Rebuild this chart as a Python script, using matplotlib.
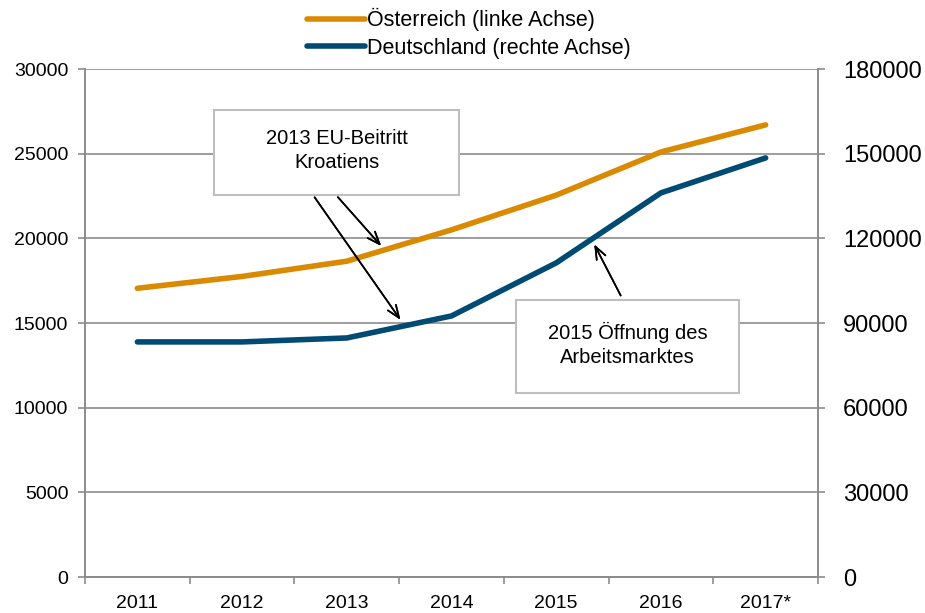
import matplotlib.pyplot as plt
import numpy as np

plt.rcParams['font.family'] = ['Liberation Sans', 'DejaVu Sans']

jahre = ['2011', '2012', '2013', '2014', '2015', '2016', '2017*']
oesterreich = [17050, 17750, 18650, 20500, 22550, 25100, 26700]
deutschland = [83300, 83300, 84700, 92500, 111300, 136100, 148500]

ORANGE = '#DA8A00'
BLAU = '#004A73'
GRAU = '#8C8C8C'

fig = plt.figure(figsize=(9.25, 6.13), dpi=100)
ax = fig.add_axes([85/925, 1 - 577/613, 733/925, 508/613])
ax2 = ax.twinx()

x = np.arange(len(jahre))
l1, = ax.plot(x, oesterreich, color=ORANGE, lw=4, solid_capstyle='round', zorder=3)
l2, = ax2.plot(x, deutschland, color=BLAU, lw=4, solid_capstyle='round', zorder=3)

ax.set_xlim(-0.5, len(jahre) - 0.5)
ax.set_ylim(0, 30000)
ax2.set_ylim(0, 180000)
ax.set_yticks(np.arange(0, 30001, 5000))
ax2.set_yticks(np.arange(0, 180001, 30000))
ax.yaxis.grid(True, color=GRAU, lw=1.2)
ax.set_axisbelow(True)

ax.set_xticks(x)
ax.set_xticklabels(jahre, fontsize=14)
ax.set_xticks(np.arange(-0.5, len(jahre)), minor=True)
ax.tick_params(axis='x', which='major', length=0, pad=13)
ax.tick_params(axis='x', which='minor', length=5, color=GRAU, width=1.2)
ax.tick_params(axis='y', length=5, color=GRAU, width=1.2, labelsize=14, pad=7)
ax2.tick_params(axis='y', length=5, color=GRAU, width=1.2, labelsize=17, pad=13)

for a in (ax, ax2):
    a.spines['top'].set_visible(False)
    for s in ('left', 'right', 'bottom'):
        a.spines[s].set_color(GRAU)
        a.spines[s].set_linewidth(1.2)

fig.legend([l1, l2], ['Österreich (linke Achse)', 'Deutschland (rechte Achse)'],
           loc='upper center', bbox_to_anchor=(0.507, 1.018), frameon=False,
           fontsize=15.5, handlelength=2.7, handletextpad=0.1, labelspacing=0.3)

def px(xp, yp):
    return (xp / 925, 1 - yp / 613)

# Kästen als Rechtecke in Figurkoordinaten
for (x0, y0, x1, y1), text in [((214, 110, 459, 195), '2013 EU-Beitritt\nKroatiens'),
                               ((516, 300, 739, 393), '2015 Öffnung des\nArbeitsmarktes')]:
    r = plt.Rectangle(px(x0, y1), (x1 - x0) / 925, (y1 - y0) / 613,
                      transform=fig.transFigure, fc='white', ec='#BEBEBE', lw=1.5, zorder=5)
    fig.add_artist(r)
    fig.text((x0 + x1) / 2 / 925, 1 - (y0 + y1) / 2 / 613 + 0.003, text,
             ha='center', va='center', fontsize=14.5, linespacing=1.3, zorder=6)

pfeile = [((336, 195), (383, 248)), ((313, 195), (402, 322)), ((622, 298), (593, 242))]
for start, ende in pfeile:
    fig.add_artist(plt.annotate('', xy=px(*ende), xytext=px(*start),
                                xycoords='figure fraction', textcoords='figure fraction',
                                arrowprops=dict(arrowstyle='->,head_length=0.9,head_width=0.35',
                                                color='black', lw=1.2)))

fig.savefig('out.png', dpi=100)
